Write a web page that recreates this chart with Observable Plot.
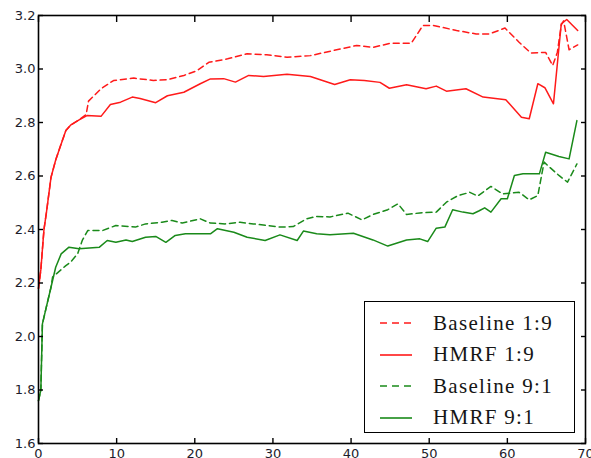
<!DOCTYPE html>
<html>
<head>
<meta charset="utf-8">
<script src="https://cdn.jsdelivr.net/npm/d3@7"></script>
<script src="https://cdn.jsdelivr.net/npm/@observablehq/plot@0.6"></script>
<style>
  body { margin: 0; background: #fff; }
  #wrap { position: relative; width: 591px; height: 458px; overflow: hidden; }
  #legend { position: absolute; left: 364px; top: 301px; width: 209px; height: 130px;
            border: 1.6px solid #000; background: #fff; font-family: "Liberation Serif", "Times New Roman", serif;
            font-size: 21px; color: #151515; }
  .row { position: absolute; left: 0; height: 30px; display: flex; align-items: center; }
  .row svg { margin-left: 15px; margin-right: 21px; }
  .row span { letter-spacing: 1.3px; }
</style>
</head>
<body>
<div id="wrap"></div>
<script>
// x positions (iterations) and values
const hmrf19X = [0, 0.3, 0.7, 1, 1.6, 2.2, 2.9, 3.5, 4.1, 5.2, 6.2, 8, 9.2, 10.5, 12, 13, 15, 16.5, 18.6, 20.7, 22, 23.7, 25.2, 26.9, 28.8, 31.8, 34.8, 37.9, 39.9, 41.7, 43.7, 44.9, 47.1, 49.6, 50.9, 52.2, 54.7, 56.9, 59.8, 61.8, 62.8, 63.9, 64.8, 65.9, 66.9, 67.6, 69];
const hmrf19Y = [2.18, 2.25, 2.40, 2.46, 2.595, 2.66, 2.72, 2.77, 2.79, 2.81, 2.826, 2.823, 2.867, 2.876, 2.895, 2.89, 2.874, 2.90, 2.913, 2.945, 2.963, 2.964, 2.951, 2.976, 2.972, 2.98, 2.972, 2.942, 2.96, 2.957, 2.95, 2.928, 2.941, 2.926, 2.936, 2.917, 2.926, 2.895, 2.885, 2.82, 2.814, 2.945, 2.93, 2.87, 3.169, 3.185, 3.144];

const base19X = [0, 0.3, 0.7, 1, 1.6, 2.2, 2.9, 3.5, 4.1, 5.2, 6.1, 6.4, 8, 9.6, 12.2, 14.7, 16.5, 18.6, 20.3, 21.8, 24.2, 26.7, 29.2, 31.8, 34.8, 37.7, 40.7, 42.8, 45, 47.7, 49.2, 50.5, 53.5, 56, 57.7, 59.7, 61.5, 63, 64.9, 65.8, 66.4, 66.9, 67.2, 67.9, 69];
const base19Y = [2.18, 2.25, 2.40, 2.46, 2.595, 2.66, 2.72, 2.77, 2.79, 2.81, 2.83, 2.88, 2.926, 2.957, 2.966, 2.957, 2.96, 2.976, 2.994, 3.025, 3.038, 3.057, 3.053, 3.044, 3.05, 3.069, 3.088, 3.081, 3.096, 3.096, 3.163, 3.163, 3.144, 3.131, 3.131, 3.153, 3.1, 3.06, 3.062, 3.013, 3.063, 3.165, 3.18, 3.072, 3.09];

const hmrf91X = [0, 0.3, 0.5, 1, 1.6, 2.2, 2.9, 3.9, 5.2, 7.8, 8.8, 9.9, 11.2, 12, 13.7, 15, 16.3, 17.5, 18.8, 22, 22.9, 25, 26.7, 29, 30.9, 33.1, 33.9, 35.6, 37.3, 40.3, 42.8, 44.7, 47.1, 48.8, 49.8, 50.9, 52, 53, 54.3, 55.6, 56.4, 57.1, 57.9, 59.2, 60, 60.9, 62, 64.1, 64.9, 66.6, 67.9, 68.9];
const hmrf91Y = [1.76, 1.80, 2.047, 2.11, 2.184, 2.259, 2.309, 2.334, 2.328, 2.334, 2.359, 2.352, 2.361, 2.355, 2.371, 2.374, 2.352, 2.378, 2.384, 2.384, 2.403, 2.39, 2.371, 2.359, 2.38, 2.359, 2.394, 2.384, 2.38, 2.386, 2.361, 2.338, 2.361, 2.365, 2.355, 2.405, 2.409, 2.474, 2.465, 2.459, 2.47, 2.481, 2.465, 2.515, 2.515, 2.602, 2.608, 2.608, 2.689, 2.673, 2.664, 2.807];

const base91X = [0, 0.3, 0.5, 1, 1.6, 1.8, 3.5, 4.1, 5, 5.6, 6.3, 8.2, 9.9, 12.4, 13.7, 15.8, 17.1, 18.4, 20.7, 22, 23.9, 25.8, 27.5, 29.2, 30.9, 32.6, 34.3, 35.6, 37.3, 39.6, 41.4, 42.8, 44.7, 46, 47.1, 48.8, 50.9, 52.2, 53.7, 55.2, 56.2, 57.9, 59.4, 61.5, 62.8, 63.9, 64.7, 65.4, 66.6, 67.7, 68.9];
const base91Y = [1.76, 1.80, 2.047, 2.11, 2.184, 2.222, 2.265, 2.278, 2.309, 2.359, 2.396, 2.396, 2.415, 2.409, 2.421, 2.427, 2.434, 2.424, 2.44, 2.424, 2.421, 2.427, 2.421, 2.415, 2.409, 2.411, 2.44, 2.449, 2.447, 2.461, 2.436, 2.456, 2.474, 2.496, 2.456, 2.462, 2.465, 2.502, 2.527, 2.539, 2.525, 2.561, 2.533, 2.539, 2.511, 2.527, 2.652, 2.633, 2.602, 2.577, 2.645];

const seriesNames = ["Baseline 1:9", "HMRF 1:9", "Baseline 9:1", "HMRF 9:1"];
const seriesColors = ["#ff1a1a", "#ff1a1a", "#1a8a1a", "#1a8a1a"];
const seriesDashed = [true, false, true, false];

const xTicks = [0, 10, 20, 30, 40, 50, 60, 70];
const yTicks = [1.6, 1.8, 2.0, 2.2, 2.4, 2.6, 2.8, 3.0, 3.2];

const seriesXs = [base19X, hmrf19X, base91X, hmrf91X];
const seriesYs = [base19Y, hmrf19Y, base91Y, hmrf91Y];

const lineMarks = seriesNames.map((name, i) => {
  const data = seriesXs[i].map((x, j) => ({x, y: seriesYs[i][j]}));
  return Plot.line(data, {
    x: "x", y: "y", stroke: seriesColors[i], strokeWidth: 1.5,
    strokeDasharray: seriesDashed[i] ? "6,4" : null
  });
});

const axisFont = {fontSize: 13, fill: "#1c1c2c"};

const chart = Plot.plot({
  width: 591,
  height: 458,
  marginLeft: 38,
  marginRight: 6,
  marginTop: 15,
  marginBottom: 15,
  style: {fontFamily: "DejaVu Sans", background: "#fff", overflow: "visible"},
  x: {domain: [0, 70]},
  y: {domain: [1.6, 3.2]},
  marks: [
    ...lineMarks,
    Plot.axisY(yTicks, {anchor: "left", tickSize: -5, tickPadding: 8, strokeWidth: 1.4, tickFormat: d => d.toFixed(1), label: null, ...axisFont}),
    Plot.axisY(yTicks, {anchor: "right", tickSize: -5, strokeWidth: 1.4, tickFormat: () => "", label: null}),
    Plot.axisX(xTicks, {anchor: "bottom", tickSize: -5, tickPadding: 10, strokeWidth: 1.4, tickFormat: d => String(d), label: null, ...axisFont}),
    Plot.axisX(xTicks, {anchor: "top", tickSize: -6, strokeWidth: 1.4, tickFormat: () => "", label: null}),
    Plot.frame({stroke: "#000", strokeWidth: 1.6})
  ]
});

const wrap = document.getElementById("wrap");
wrap.appendChild(chart);

// legend (inside the plot area, as in the reference)
const legend = document.createElement("div");
legend.id = "legend";
seriesNames.forEach((name, i) => {
  const row = document.createElement("div");
  row.className = "row";
  row.style.top = (6 + i * 31.5) + "px";
  const dash = seriesDashed[i] ? 'stroke-dasharray="7,5"' : "";
  row.innerHTML = `<svg width="32" height="10"><line x1="0" y1="5" x2="32" y2="5" stroke="${seriesColors[i]}" stroke-width="1.6" ${dash}/></svg><span>${name}</span>`;
  legend.appendChild(row);
});
wrap.appendChild(legend);
</script>
</body>
</html>
